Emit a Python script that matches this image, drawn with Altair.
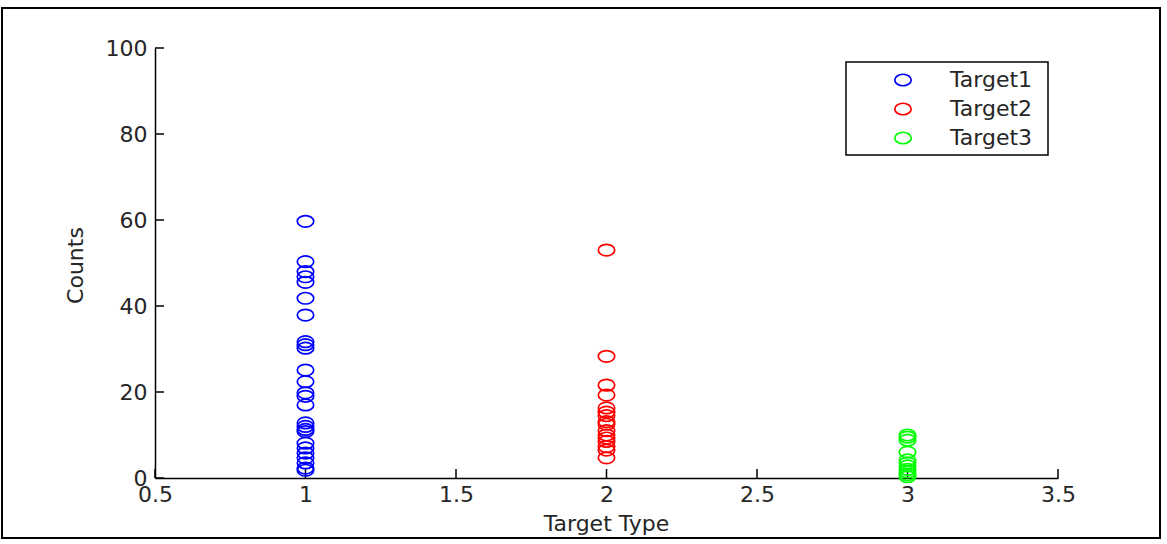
import altair as alt
import pandas as pd

# ---- data ----
series_names = ["Target1", "Target2", "Target3"]
series_colors = ["#0000FF", "#FF0000", "#00FF00"]
target1_counts = [59.7, 50.3, 48, 46.8, 45.5, 41.8, 37.9, 31.7, 31, 30.2, 25.1, 22.4,
                  19.8, 19, 17, 12.8, 12, 11.3, 10.8, 8.1, 7, 5.8, 4.7, 3.5, 2.3, 1.8]
target2_counts = [53, 28.3, 21.6, 19.3, 16.3, 15.3, 14.5, 13.1, 12.5, 11, 10, 9.3,
                  8.5, 7.3, 6.5, 4.7]
target3_counts = [10, 9.5, 8.8, 6, 4.2, 3.5, 2.8, 2, 1.4, 0.8, 0.3]
target_types = [1, 2, 3]
x_ticks = [0.5, 1, 1.5, 2, 2.5, 3, 3.5]
y_ticks = [0, 20, 40, 60, 80, 100]

rows = []
for name, tt, vals in zip(series_names, target_types,
                          [target1_counts, target2_counts, target3_counts]):
    for v in vals:
        rows.append({"series": name, "type": tt, "count": v})
df = pd.DataFrame(rows)

FONT = "DejaVu Sans"
FS = 22
TXT = "#262626"
ELLIPSE = "M -1 0 A 1 0.7 0 1 0 1 0 A 1 0.7 0 1 0 -1 0 Z"

xscale = alt.Scale(domain=[0.5, 3.5], nice=False, zero=False)
yscale = alt.Scale(domain=[0, 100], nice=False)

points = alt.Chart(df).mark_point(
    shape=ELLIPSE, size=270, strokeWidth=1.7, filled=False, opacity=1
).encode(
    x=alt.X("type:Q", scale=xscale, axis=alt.Axis(
        values=x_ticks, format="~g", tickSize=0, labelPadding=6, grid=False,
        domainColor="black", domainWidth=1.5, labelFont=FONT, labelFontSize=FS,
        labelColor=TXT, labelFlush=False,
        title="Target Type", titleFont=FONT, titleFontSize=FS, titleFontWeight="normal",
        titleColor=TXT, titleX=451, titleY=45, titleBaseline="middle", titleAlign="center")),
    y=alt.Y("count:Q", scale=yscale, axis=alt.Axis(
        values=y_ticks, tickSize=0, labelPadding=8, grid=False,
        domainColor="black", domainWidth=1.5, labelFont=FONT, labelFontSize=FS,
        labelColor=TXT, labelFlush=False, labelBaseline="middle",
        title="Counts", titleFont=FONT, titleFontSize=FS, titleFontWeight="normal",
        titleColor=TXT, titleX=-80, titleY=217, titleAngle=270,
        titleBaseline="middle", titleAlign="center")),
    color=alt.Color("series:N", scale=alt.Scale(domain=series_names, range=series_colors),
                    legend=alt.Legend(
                        title=None, orient="none", legendX=691, legendY=14,
                        padding=7, symbolOffset=39, labelOffset=36, rowPadding=7,
                        symbolType=ELLIPSE, symbolSize=270, symbolStrokeWidth=1.7,
                        labelFont=FONT, labelFontSize=FS, labelColor=TXT)),
)

xt = alt.Chart(pd.DataFrame({"t": x_ticks})).mark_rule(color="black", strokeWidth=1.5).encode(
    x=alt.X("t:Q", scale=xscale), y=alt.value(430), y2=alt.value(421))
yt = alt.Chart(pd.DataFrame({"t": y_ticks})).mark_rule(color="black", strokeWidth=1.5).encode(
    y=alt.Y("t:Q", scale=yscale), x=alt.value(0), x2=alt.value(9))

legend_box = alt.Chart(pd.DataFrame({"a": [0]})).mark_rect(
    filled=False, stroke="black", strokeWidth=1.5).encode(
    x=alt.value(691), x2=alt.value(893), y=alt.value(14), y2=alt.value(107))

frame = alt.Chart(pd.DataFrame({"a": [0]})).mark_rect(
    filled=False, stroke="black", strokeWidth=2).encode(
    x=alt.value(-153), x2=alt.value(1005), y=alt.value(-40), y2=alt.value(490))

chart = alt.layer(frame, legend_box, xt, yt, points).properties(
    width=903, height=430,
    autosize=alt.AutoSizeParams(type="none"),
    padding={"left": 155, "top": 48, "right": 109, "bottom": 66},
    background="white",
).configure_view(stroke=None)

chart.save("out.html", embed_options={"renderer": "svg", "actions": False})
